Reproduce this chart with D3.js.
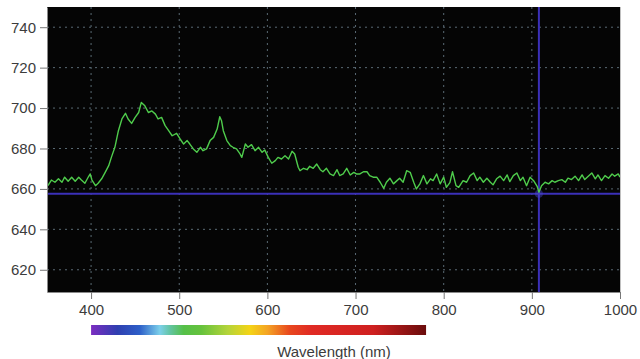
<!DOCTYPE html>
<html>
<head>
<meta charset="utf-8">
<script src="https://cdn.jsdelivr.net/npm/d3@7"></script>
<style>
    body { margin: 0; background: #fff; }
    svg { display: block; font-family: "Liberation Sans", Arial, sans-serif; }
</style>
</head>
<body>
<script>
// データ
const wavelength = [351, 355, 359, 363, 367, 370, 374, 378, 382, 386, 389, 393, 397, 399, 401, 405, 408, 412, 416, 420,
    423, 427, 431, 435, 439, 442, 446, 450, 454, 457, 461, 465, 469, 473, 476, 480, 484, 488, 492, 497,
    501, 505, 509, 512, 516, 520, 524, 527, 531, 535, 539, 543, 546, 548, 550, 554, 558, 561, 565, 569,
    571, 575, 578, 582, 586, 590, 594, 597, 601, 605, 609, 612, 616, 620, 624, 628, 631, 635, 637, 641,
    645, 648, 652, 656, 660, 663, 667, 671, 675, 679, 682, 686, 690, 694, 698, 701, 705, 709, 713, 716,
    720, 724, 728, 732, 735, 739, 743, 747, 750, 754, 758, 762, 766, 769, 773, 777, 781, 785, 788, 792,
    796, 800, 803, 807, 810, 814, 817, 822, 826, 830, 834, 838, 841, 845, 849, 853, 856, 860, 864, 868,
    872, 875, 879, 883, 887, 890, 894, 898, 902, 906, 908, 911, 915, 919, 923, 926, 930, 934, 938, 941,
    945, 949, 953, 957, 960, 964, 968, 972, 975, 979, 983, 987, 991, 994, 998, 1000];
const intensity = [661.6, 664.4, 663.3, 665.0, 663.3, 665.8, 663.8, 665.8, 663.8, 665.8, 664.4, 662.8, 666.0, 667.4, 664.4, 661.6, 662.8, 665.0, 668.2, 671.5,
    675.6, 680.6, 688.8, 694.6, 697.4, 694.6, 692.4, 695.4, 697.8, 702.8, 701.1, 697.8, 698.6, 697.0, 694.6, 695.4, 691.3, 688.8, 686.3, 687.5,
    684.7, 682.2, 683.9, 682.2, 679.8, 678.1, 680.6, 678.9, 679.8, 683.9, 685.5, 689.6, 695.7, 693.7, 688.8, 683.9, 681.4, 680.6, 679.8, 677.3,
    675.6, 682.2, 680.6, 681.9, 678.9, 680.6, 678.1, 679.3, 675.6, 672.7, 674.0, 675.6, 674.8, 676.4, 674.8, 678.6, 677.3, 670.7, 669.0, 670.2,
    669.5, 671.2, 670.2, 672.3, 669.5, 668.5, 670.2, 667.4, 666.6, 669.5, 666.6, 667.4, 670.2, 666.9, 668.2, 667.4, 667.4, 668.5, 668.5, 666.6,
    665.8, 665.8, 663.3, 660.3, 663.3, 665.3, 662.5, 664.1, 665.3, 663.3, 669.0, 668.2, 663.3, 660.0, 662.5, 666.6, 662.5, 665.0, 664.1, 667.4,
    662.5, 665.8, 660.8, 663.1, 668.5, 661.6, 660.8, 664.1, 663.3, 666.6, 667.9, 664.1, 665.8, 663.3, 665.3, 663.3, 662.0, 665.0, 666.3, 664.1,
    666.9, 663.6, 666.6, 667.9, 664.1, 665.8, 661.6, 665.8, 664.1, 661.3, 658.4, 661.6, 663.3, 662.5, 664.1, 663.3, 664.1, 664.6, 663.3, 665.3,
    664.6, 666.3, 664.1, 666.9, 664.6, 666.3, 667.9, 665.0, 666.9, 664.1, 666.6, 665.3, 667.4, 666.3, 667.4, 665.8];

// 目盛り
const xTicks = [400, 500, 600, 700, 800, 900, 1000];
const yTicks = [620, 640, 660, 680, 700, 720, 740];

// カーソル位置
const cursorX = 908;
const cursorY = 657.6;

// スペクトルバーの色
const spectrumNm = [400, 430, 455, 478, 490, 505, 525, 555, 580, 600, 625, 650, 720, 780];
const spectrumColor = ["#7b2cc0", "#2f3fb0", "#2d5fc8", "#7cd0ea", "#62c4a0", "#55c048", "#66c23c",
    "#b4d43a", "#f4d416", "#f4a424", "#e8481e", "#e02a24", "#cf2020", "#6a0c0c"];

const width = 640;
const height = 359;
const plotLeft = 47;
const plotRight = 620;
const plotTop = 7;
const plotBottom = 292;

const svg = d3.select("body")
    .append("svg")
    .attr("width", width)
    .attr("height", height);

const xScale = d3.scaleLinear()
    .domain([350, 1000])
    .range([plotLeft, plotRight]);
const yScale = d3.scaleLinear()
    .domain([609, 750])
    .range([plotBottom, plotTop]);

// 背景
svg.append("rect")
    .attr("x", plotLeft)
    .attr("y", plotTop)
    .attr("width", plotRight - plotLeft)
    .attr("height", plotBottom - plotTop)
    .attr("fill", "#050505");

// グリッド
svg.append("g")
    .selectAll("line")
    .data(xTicks.filter(d => d < 1000))
    .join("line")
    .attr("x1", d => xScale(d))
    .attr("x2", d => xScale(d))
    .attr("y1", plotTop)
    .attr("y2", plotBottom)
    .attr("stroke", "#5a6a74")
    .attr("stroke-dasharray", "2,4");
svg.append("g")
    .selectAll("line")
    .data(yTicks)
    .join("line")
    .attr("x1", plotLeft)
    .attr("x2", plotRight)
    .attr("y1", d => yScale(d))
    .attr("y2", d => yScale(d))
    .attr("stroke", "#5a6a74")
    .attr("stroke-dasharray", "2,4");

// カーソル線
svg.append("line")
    .attr("x1", plotLeft)
    .attr("x2", plotRight)
    .attr("y1", yScale(cursorY))
    .attr("y2", yScale(cursorY))
    .attr("stroke", "#3b30b8")
    .attr("stroke-width", 2);
svg.append("line")
    .attr("x1", xScale(cursorX))
    .attr("x2", xScale(cursorX))
    .attr("y1", plotTop)
    .attr("y2", plotBottom)
    .attr("stroke", "#3b30b8")
    .attr("stroke-width", 2);
svg.append("circle")
    .attr("cx", xScale(cursorX))
    .attr("cy", yScale(cursorY))
    .attr("r", 4)
    .attr("fill", "#4a48c8")
    .attr("opacity", 0.45);

// スペクトル
const line = d3.line()
    .x((d, i) => xScale(wavelength[i]))
    .y(d => yScale(d));
svg.append("path")
    .datum(intensity)
    .attr("fill", "none")
    .attr("stroke", "#4fcc4c")
    .attr("stroke-width", 1.4)
    .attr("stroke-linejoin", "round")
    .attr("d", line);

// 軸
const xAxis = svg.append("g")
    .attr("transform", "translate(0," + plotBottom + ")")
    .call(d3.axisBottom(xScale).tickValues(xTicks).tickFormat(d3.format("d"))
        .tickSize(7).tickPadding(5).tickSizeOuter(0));
const yAxis = svg.append("g")
    .attr("transform", "translate(" + plotLeft + ",0)")
    .call(d3.axisLeft(yScale).tickValues(yTicks).tickFormat(d3.format("d"))
        .tickSize(7).tickPadding(4).tickSizeOuter(0));
[xAxis, yAxis].forEach(ax => {
    ax.select(".domain").attr("stroke", "#8a8a8a");
    ax.selectAll(".tick line").attr("stroke", "#777");
    ax.selectAll("text")
        .attr("fill", "#3c3c3c")
        .style("font-size", "15px")
        .style("font-family", "'Liberation Sans', Arial, sans-serif");
});

// 右端の線
svg.append("line")
    .attr("x1", plotRight + 0.5)
    .attr("x2", plotRight + 0.5)
    .attr("y1", plotTop)
    .attr("y2", plotBottom)
    .attr("stroke", "#c0c0c0");

// カラーバー
const grad = svg.append("defs")
    .append("linearGradient")
    .attr("id", "spectrum")
    .attr("gradientUnits", "userSpaceOnUse")
    .attr("x1", xScale(400))
    .attr("x2", xScale(780))
    .attr("y1", 0)
    .attr("y2", 0);
grad.selectAll("stop")
    .data(spectrumNm)
    .join("stop")
    .attr("offset", d => (d - 400) / (780 - 400))
    .attr("stop-color", (d, i) => spectrumColor[i]);
svg.append("rect")
    .attr("x", xScale(400))
    .attr("y", 325)
    .attr("width", xScale(780) - xScale(400))
    .attr("height", 10)
    .attr("fill", "url(#spectrum)");

svg.append("text")
    .attr("x", 334)
    .attr("y", 357)
    .attr("text-anchor", "middle")
    .attr("fill", "#3c3c3c")
    .style("font-size", "15px")
    .text("Wavelength (nm)");
</script>
</body>
</html>
